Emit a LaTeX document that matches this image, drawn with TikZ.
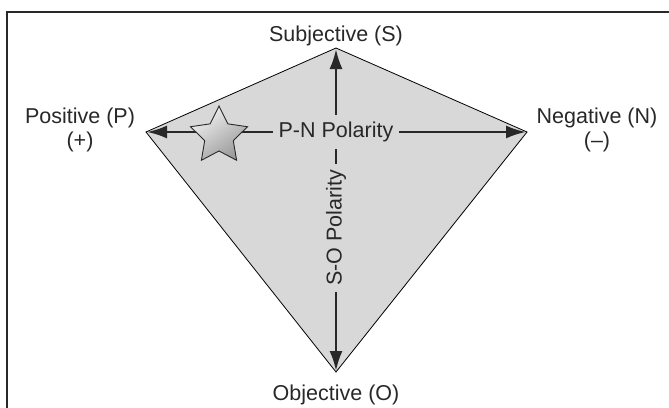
\documentclass[tikz,border=0pt]{standalone}
\usepackage{fontspec}
\setmainfont{Liberation Sans}
\usetikzlibrary{arrows.meta,shapes.geometric}

\definecolor{kitegray}{RGB}{216,216,216}
\definecolor{inkgray}{RGB}{40,40,40}

\begin{document}
\begin{tikzpicture}[
    x=1pt, y=-1pt,
    lbl/.style={font=\fontsize{21.5}{24}\selectfont, text=inkgray, align=center, inner sep=0pt},
    axislbl/.style={lbl, fill=kitegray, inner xsep=6pt, inner ysep=7pt},
    polar/.style={{Latex[length=20pt,width=13pt]}-{Latex[length=20pt,width=13pt]}, line width=2.4pt, draw=inkgray, shorten <=1pt, shorten >=1pt},
]
    \useasboundingbox (0,0) rectangle (669,407);
    \begin{scope}
        \clip (0,0) rectangle (669,407);
        \draw[line width=1.2pt, draw=inkgray] (7,430) -- (7,12) -- (690,12);
    \end{scope}

    % Kite corners
    \coordinate (S) at (336,48);
    \coordinate (P) at (146,132);
    \coordinate (N) at (527,132);
    \coordinate (O) at (336,372);
    \coordinate (C) at (336,132);

    \draw[fill=kitegray, line width=0.8pt] (S) -- (N) -- (O) -- (P) -- cycle;

    \draw[polar] (P) -- (N);
    \draw[polar] (S) -- (O);

    \node[axislbl] (pn) at (C) {P-N Polarity};
    \node[axislbl, rotate=90] (so) at (336,228) {S-O Polarity};

    \node[star, star points=5, star point ratio=2.0, minimum size=60pt, inner sep=0pt,
        draw=inkgray, line width=0.9pt, top color=gray!10, bottom color=gray!80,
        shading angle=35] (mark) at (219,136) {};

    % Corner labels
    \node[lbl, anchor=base] (slbl) at (336,41) {Subjective (S)};
    \node[lbl, anchor=base] (olbl) at (336,400) {Objective (O)};
    \node[lbl] (plbl) at (80,130) {Positive (P)\\(+)};
    \node[lbl] (nlbl) at (597,130) {Negative (N)\\(–)};
\end{tikzpicture}
\end{document}
